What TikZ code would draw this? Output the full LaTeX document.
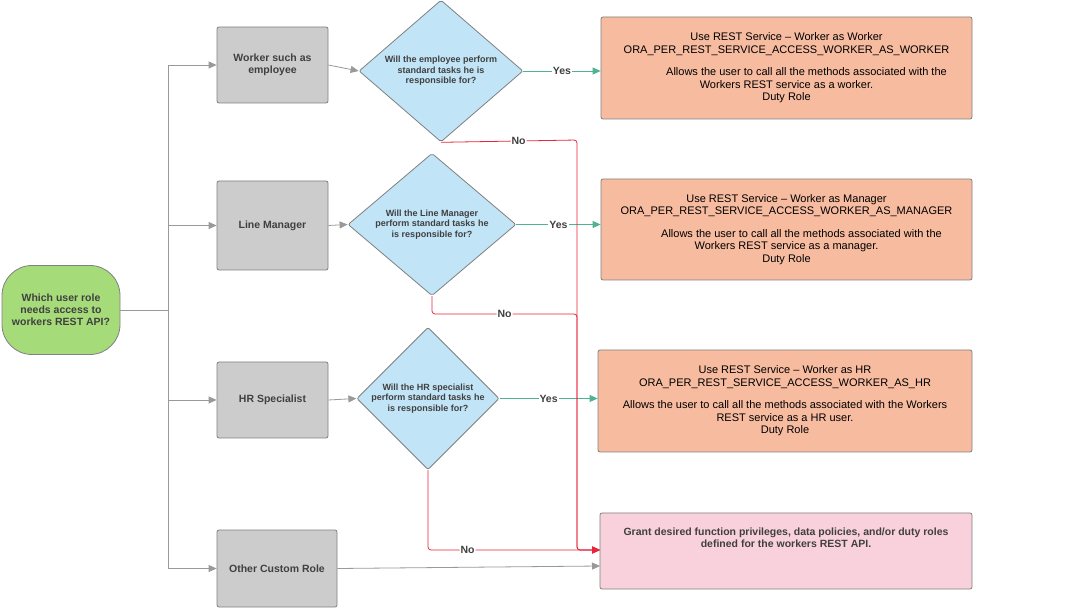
\documentclass[tikz,border=0pt]{standalone}
\usepackage{fontspec}
\setmainfont{Liberation Sans}
\usetikzlibrary{shapes.geometric,arrows.meta}
\definecolor{gbox}{HTML}{CCCCCC}
\definecolor{dia}{HTML}{C1E4F6}
\definecolor{orng}{HTML}{F7BBA0}
\definecolor{pnk}{HTML}{F8D1DD}
\definecolor{grn}{HTML}{A6DB7A}
\definecolor{teal}{HTML}{4FB393}
\definecolor{nored}{HTML}{E8253A}
\begin{document}
\begin{tikzpicture}[x=1pt,y=-1pt,
 box/.style={draw=black!50,line width=0.8pt,rounded corners=2pt,fill=gbox,font=\fontsize{10.5}{12}\selectfont\bfseries,text=black!75,align=center,inner sep=0},
 dm/.style={draw=black!50,line width=0.8pt,fill=dia,diamond,rounded corners=2pt,font=\fontsize{9}{10.5}\selectfont\bfseries,text=black!75,align=center,inner sep=0},
 rb/.style={draw=black!50,line width=0.8pt,rounded corners=2pt,fill=orng,font=\fontsize{11}{12.5}\selectfont,align=center,inner sep=0},
 ga/.style={draw=black!40,line width=0.8pt,-{Triangle[length=8pt,width=7pt]}},
 ya/.style={draw=teal,line width=0.8pt,-{Triangle[length=8pt,width=7pt]}},
 na/.style={draw=nored,line width=0.8pt,rounded corners=3pt,-{Triangle[length=8pt,width=7pt]}},
 lab/.style={fill=white,inner sep=1pt,font=\fontsize{10.5}{12}\selectfont\bfseries,text=black!75}]
\useasboundingbox (0,0) rectangle (1085,609);
\node[draw=black!50,line width=0.8pt,fill=grn,rounded corners=30pt,minimum width=118pt,minimum height=89pt,font=\fontsize{10.5}{12}\selectfont\bfseries,text=black!75,align=center,inner sep=0] (s) at (61,310) {Which user role\\needs access to\\workers REST API?};
\node[box,minimum width=111pt,minimum height=76pt] (w) at (272.5,65) {Worker such as\\employee};
\node[box,minimum width=111pt,minimum height=89pt] (l) at (272.5,225.5) {Line Manager};
\node[box,minimum width=111pt,minimum height=76pt] (h) at (272.5,400) {HR Specialist};
\node[box,minimum width=120pt,minimum height=77pt] (o) at (277,568.5) {Other Custom Role};
\node[dm,minimum width=164pt,minimum height=140pt] (d1) at (441,71) {Will the employee perform\\standard tasks he is\\responsible for?};
\node[dm,minimum width=168pt,minimum height=132pt] (d2) at (432,224.5) {Will the Line Manager\\perform standard tasks he\\is responsible for?};
\node[dm,minimum width=142pt,minimum height=117pt] (d3) at (428,398.5) {Will the HR specialist\\perform standard tasks he\\is responsible for?};
\node[rb,minimum width=371pt,minimum height=102pt] (r1) at (786.5,68) {Use REST Service -- Worker as Worker\\ORA\_PER\_REST\_SERVICE\_ACCESS\_WORKER\_AS\_WORKER\\[10pt]\hspace*{40pt}Allows the user to call all the methods associated with the\\Workers REST service as a worker.\\Duty Role};
\node[rb,minimum width=371pt,minimum height=101pt] (r2) at (786.5,229.5) {Use REST Service -- Worker as Manager\\ORA\_PER\_REST\_SERVICE\_ACCESS\_WORKER\_AS\_MANAGER\\[10pt]\hspace*{30pt}Allows the user to call all the methods associated with the\\Workers REST service as a manager.\\Duty Role};
\node[rb,minimum width=374pt,minimum height=102pt] (r3) at (785,401) {Use REST Service -- Worker as HR\\ORA\_PER\_REST\_SERVICE\_ACCESS\_WORKER\_AS\_HR\\[10pt]Allows the user to call all the methods associated with the Workers\\REST service as a HR user.\\Duty Role};
\node[rb,fill=pnk,minimum width=372pt,minimum height=76pt,font=\fontsize{10.5}{12}\selectfont\bfseries,text=black!75] (p) at (786,551) {Grant desired function privileges, data policies, and/or duty roles\\defined for the workers REST API.\\[14pt]};
\coordinate (j) at (168,310);
\draw[draw=black!40,line width=0.8pt] (s.east) -- (j);
\draw[ga] (j) |- (w.west);
\draw[ga] (j) |- (l.west);
\draw[ga] (j) |- (h.west);
\draw[ga] (j) |- (o.west);
\draw[ga] (w.east) -- (d1.west);
\draw[ga] (l.east) -- (d2.west);
\draw[ga] (h.east) -- (d3.west);
\draw[ya] (d1.east) -- node[lab]{Yes} (r1.west|-d1.east);
\draw[ya] (d2.east) -- node[lab]{Yes} (r2.west|-d2.east);
\draw[ya] (d3.east) -- node[lab]{Yes} (r3.west|-d3.east);
\coordinate (pin) at (600,550);
\draw[na] (d1.south) -- node[lab,pos=0.57]{No} (577,140) -- (577,550) -- (pin);
\draw[na] (d2.south) -- (432,314) -- node[lab,pos=0.5]{No} (577,314) -- (577,550) -- (pin);
\draw[na] (d3.south) -- (428,550) -- node[lab,pos=0.23]{No} (pin);
\draw[ga] (o.east) -- (600,566);
\end{tikzpicture}
\end{document}
